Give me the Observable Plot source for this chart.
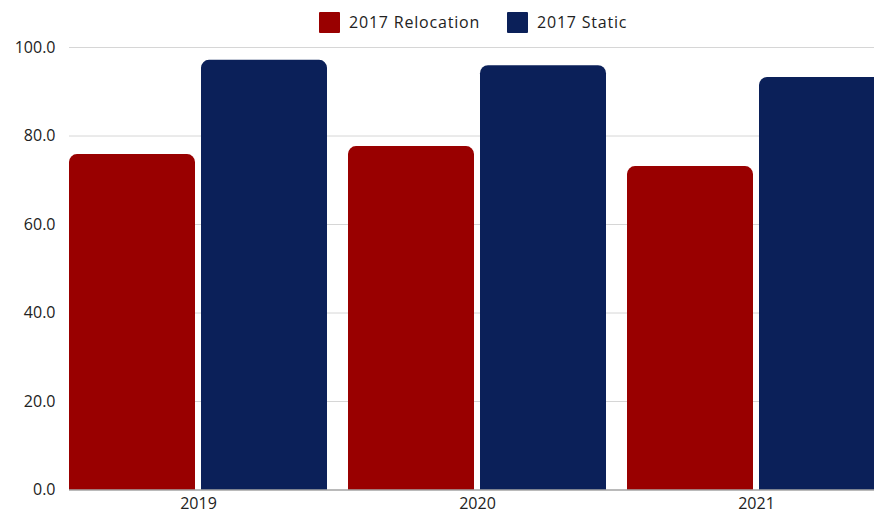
<!DOCTYPE html>
<html>
<head>
<meta charset="utf-8">
<script src="https://cdn.jsdelivr.net/npm/d3@7"></script>
<script src="https://cdn.jsdelivr.net/npm/@observablehq/plot@0.6"></script>
<style>
  html, body { margin: 0; padding: 0; overflow: hidden; background: #fff; }
  #wrap { position: relative; width: 874px; height: 514px; overflow: hidden; font-family: "Open Sans", sans-serif; }
  .leg { position: absolute; top: 12px; display: flex; align-items: center; font-size: 16px; letter-spacing: 0.8px; color: #222; white-space: nowrap; line-height: 21px; }
  .sw { width: 21px; height: 21px; margin-right: 9px; border-radius: 1px; }
  #chart { position: absolute; left: 0; top: 0; width: 886px; }
  #chart svg { max-width: none !important; }
</style>
</head>
<body>
<div id="wrap">
  <div id="chart"></div>
</div>
<script>
const years = ["2019", "2020", "2021"];
const seriesNames = ["2017 Relocation", "2017 Static"];
const relocation = [75.8, 77.6, 73.1];
const staticVals = [97.1, 95.9, 93.2];
const colors = ["#990000", "#0b2059"];
const yTicks = [0, 20, 40, 60, 80, 100];

const rows = [];
years.forEach((y, i) => {
  rows.push({year: y, series: seriesNames[0], value: relocation[i]});
  rows.push({year: y, series: seriesNames[1], value: staticVals[i]});
});

const wrap = document.getElementById("wrap");
const legPos = [319, 507];
seriesNames.forEach((s, i) => {
  const d = document.createElement("div");
  d.className = "leg";
  d.style.left = legPos[i] + "px";
  d.innerHTML = `<span class="sw" style="background:${colors[i]}"></span><span>${s}</span>`;
  wrap.appendChild(d);
});

const chart = Plot.plot({
  width: 886,
  height: 514,
  marginLeft: 69,
  marginRight: 0,
  marginTop: 47,
  marginBottom: 24.5,
  style: {fontFamily: "Open Sans, sans-serif", fontSize: "16px", color: "#222", background: "transparent", maxWidth: "none", overflow: "visible"},
  x: {domain: years, paddingInner: 0.075, paddingOuter: 0, label: null, tickSize: 0, tickPadding: 8},
  y: {domain: [0, 100], ticks: yTicks, tickFormat: d3.format(".1f"), label: null, tickSize: 0, tickPadding: 14},
  color: {domain: seriesNames, range: colors},
  marks: [
    Plot.gridY(yTicks.filter(d => d > 0), {stroke: "#d6d6d6", strokeOpacity: 1, strokeWidth: 1}),
    Plot.barY(rows.filter(d => d.series === seriesNames[0]), {x: "year", y: "value", fill: "series", insetRight: 132, ry1: 8}),
    Plot.barY(rows.filter(d => d.series === seriesNames[1]), {x: "year", y: "value", fill: "series", insetLeft: 132, ry1: 8}),
    Plot.ruleY([0], {stroke: "#777777", strokeWidth: 1.2})
  ]
});
document.getElementById("chart").appendChild(chart);
</script>
</body>
</html>
